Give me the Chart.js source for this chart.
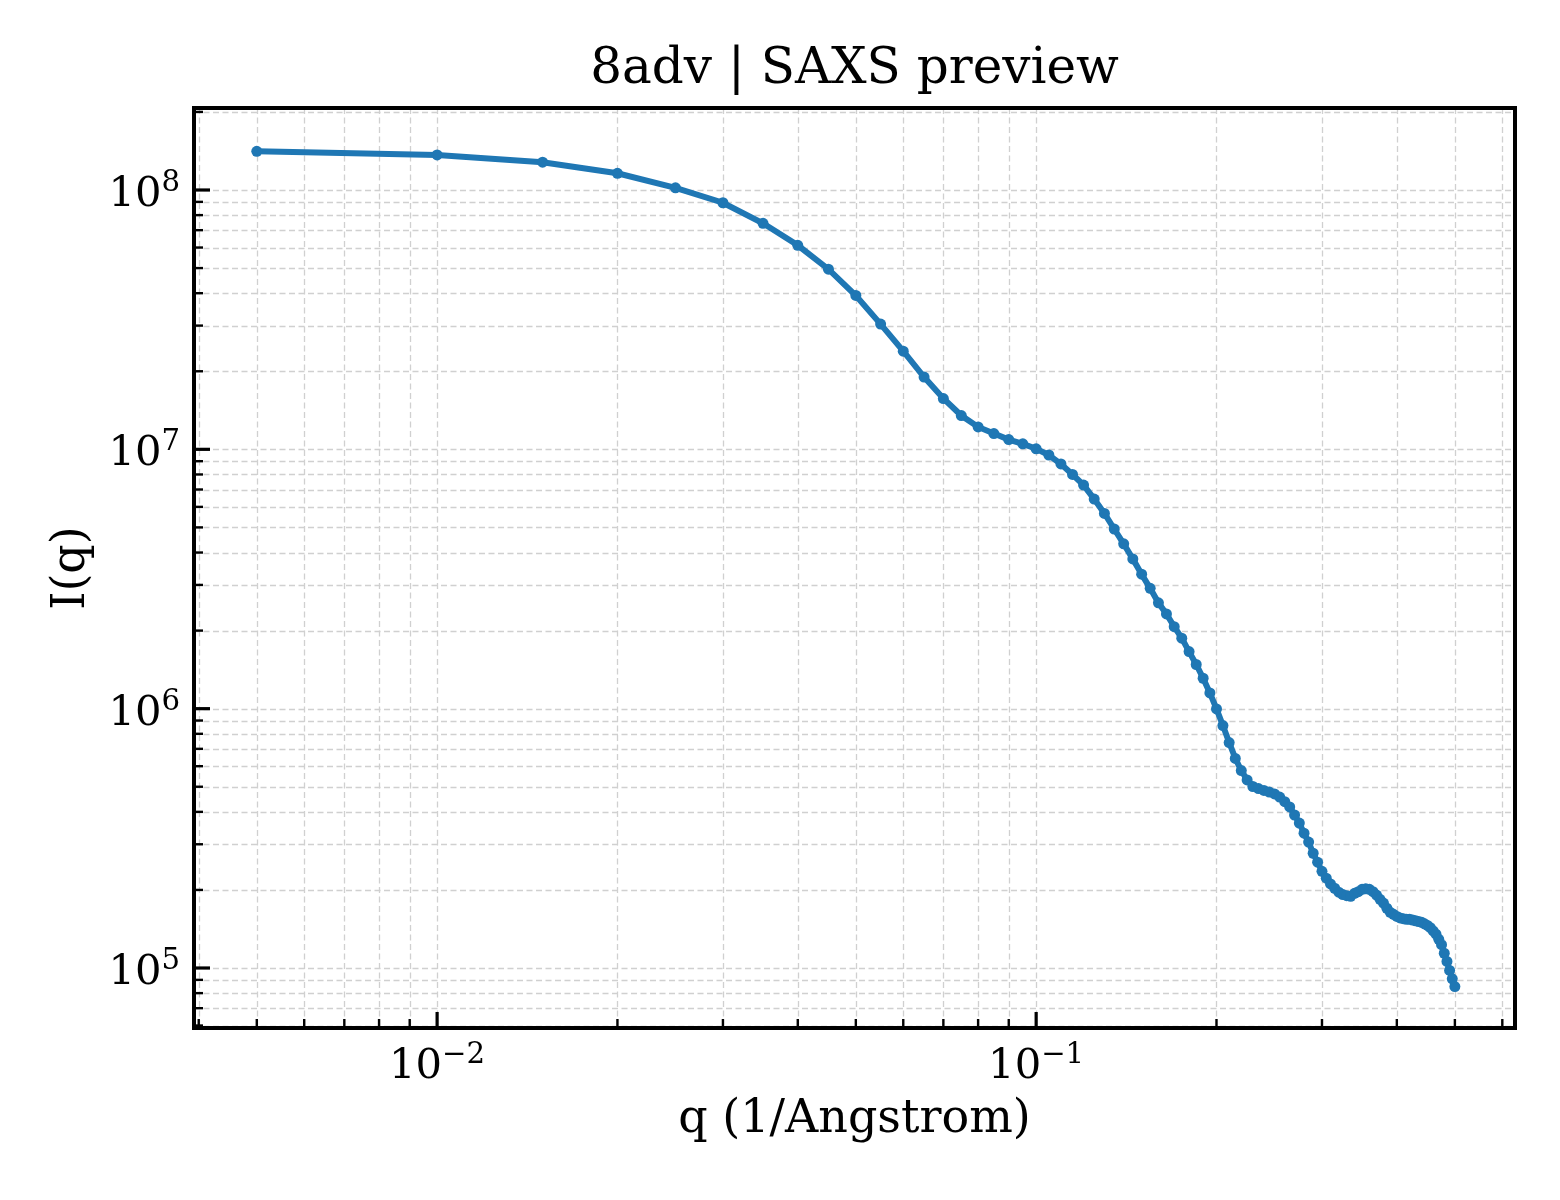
<!DOCTYPE html>
<html>
<head>
<meta charset="utf-8">
<script src="https://cdn.jsdelivr.net/npm/chart.js@4.4.1/dist/chart.umd.min.js"></script>
<style>
  html, body { margin: 0; padding: 0; background: #fff; }
  canvas { display: block; }
</style>
</head>
<body>
<canvas id="saxsChart" width="1560" height="1200"></canvas>
<script>
// q values (1/Angstrom)
const qValues = [
  0.005, 0.010, 0.015, 0.020, 0.025, 0.030, 0.035, 0.040, 0.045, 0.050,
  0.055, 0.060, 0.065, 0.070, 0.075, 0.080, 0.085, 0.090, 0.095, 0.100,
  0.105, 0.110, 0.115, 0.120, 0.125, 0.130, 0.135, 0.140, 0.145, 0.150,
  0.155, 0.160, 0.165, 0.170, 0.175, 0.180, 0.185, 0.190, 0.195, 0.200,
  0.205, 0.210, 0.215, 0.220, 0.225, 0.230, 0.235, 0.240, 0.245, 0.250,
  0.255, 0.260, 0.265, 0.270, 0.275, 0.280, 0.285, 0.290, 0.295, 0.300,
  0.305, 0.310, 0.315, 0.320, 0.325, 0.330, 0.335, 0.340, 0.345, 0.350,
  0.355, 0.360, 0.365, 0.370, 0.375, 0.380, 0.385, 0.390, 0.395, 0.400,
  0.405, 0.410, 0.415, 0.420, 0.425, 0.430, 0.435, 0.440, 0.445, 0.450,
  0.455, 0.460, 0.465, 0.470, 0.475, 0.480, 0.485, 0.490, 0.495, 0.500
];

// I(q)
const intensity = [
  1.41e8, 1.365e8, 1.28e8, 1.16e8, 1.02e8, 8.93e7, 7.44e7, 6.12e7, 4.95e7, 3.92e7,
  3.04e7, 2.39e7, 1.90e7, 1.57e7, 1.35e7, 1.22e7, 1.15e7, 1.09e7, 1.05e7, 1.005e7,
  9.51e6, 8.78e6, 8.00e6, 7.28e6, 6.43e6, 5.66e6, 4.93e6, 4.32e6, 3.78e6, 3.30e6,
  2.91e6, 2.56e6, 2.32e6, 2.07e6, 1.87e6, 1.66e6, 1.48e6, 1.31e6, 1.15e6, 9.98e5,
  8.61e5, 7.40e5, 6.43e5, 5.77e5, 5.31e5, 5.01e5, 4.92e5, 4.84e5, 4.77e5, 4.69e5,
  4.56e5, 4.38e5, 4.18e5, 3.89e5, 3.62e5, 3.31e5, 3.06e5, 2.77e5, 2.56e5, 2.36e5,
  2.22e5, 2.11e5, 2.03e5, 1.96e5, 1.92e5, 1.90e5, 1.89e5, 1.94e5, 1.97e5, 2.01e5,
  2.02e5, 2.01e5, 1.97e5, 1.91e5, 1.84e5, 1.78e5, 1.70e5, 1.64e5, 1.61e5, 1.58e5,
  1.56e5, 1.55e5, 1.54e5, 1.54e5, 1.53e5, 1.52e5, 1.51e5, 1.50e5, 1.48e5, 1.46e5,
  1.43e5, 1.39e5, 1.35e5, 1.29e5, 1.23e5, 1.14e5, 1.06e5, 9.79e4, 9.08e4, 8.48e4
];

// tick labels: base "10" plus exponent
const xTickValues = [0.01, 0.1];
const xTickExps = ['\u22122', '\u22121'];
const yTickValues = [1e5, 1e6, 1e7, 1e8];
const yTickExps = ['5', '6', '7', '8'];

const SERIF = '"DejaVu Serif", "Liberation Serif", serif';
const TICK_SIZE = 41.7;
const EXP_SIZE = 29.2;

// minor tick values (1..9 x decade) inside the scale range
function minorTicks(scale) {
  const out = [];
  let d = Math.pow(10, Math.floor(Math.log10(scale.min)));
  while (d < scale.max) {
    for (let m = 1; m <= 9; m++) {
      const v = m * d;
      if (v >= scale.min && v <= scale.max) out.push({ v: v, major: m === 1 });
    }
    d *= 10;
  }
  return out;
}

// draws "10" with a raised exponent; align 'center' or 'right'
function drawPow(ctx, x, baseY, exp, align) {
  ctx.font = TICK_SIZE + 'px ' + SERIF;
  const wb = ctx.measureText('10').width;
  ctx.font = EXP_SIZE + 'px ' + SERIF;
  const we = ctx.measureText(exp).width;
  const total = wb + we;
  const x0 = align === 'right' ? x - total : x - total / 2;
  ctx.textAlign = 'left';
  ctx.textBaseline = 'alphabetic';
  ctx.font = TICK_SIZE + 'px ' + SERIF;
  ctx.fillText('10', x0, baseY);
  ctx.font = EXP_SIZE + 'px ' + SERIF;
  ctx.fillText(exp, x0 + wb, baseY - 15);
}

const framePlugin = {
  id: 'mplFrame',
  afterLayout(chart) {
    // centre the title over the axes, like matplotlib
    const tb = chart.titleBlock;
    if (tb) { tb.left = chart.chartArea.left; tb.right = chart.chartArea.right; }
  },
  beforeDatasetsDraw(chart) {
    const { ctx, chartArea: a, scales } = chart;
    ctx.save();
    ctx.strokeStyle = '#d0d0d0';
    ctx.lineWidth = 1.3;
    ctx.setLineDash([6, 3.5]);
    minorTicks(scales.x).forEach(t => {
      const px = Math.round(scales.x.getPixelForValue(t.v)) + 0.5;
      ctx.beginPath(); ctx.moveTo(px, a.top); ctx.lineTo(px, a.bottom); ctx.stroke();
    });
    minorTicks(scales.y).forEach(t => {
      const py = Math.round(scales.y.getPixelForValue(t.v)) + 0.5;
      ctx.beginPath(); ctx.moveTo(a.left, py); ctx.lineTo(a.right, py); ctx.stroke();
    });
    ctx.restore();
  },
  afterDatasetsDraw(chart) {
    const { ctx, chartArea: a, scales } = chart;
    ctx.save();
    ctx.strokeStyle = '#000';
    ctx.setLineDash([]);
    minorTicks(scales.x).forEach(t => {
      const px = scales.x.getPixelForValue(t.v);
      ctx.lineWidth = t.major ? 3.2 : 2.4;
      ctx.beginPath(); ctx.moveTo(px, a.bottom); ctx.lineTo(px, a.bottom - (t.major ? 16 : 9)); ctx.stroke();
    });
    minorTicks(scales.y).forEach(t => {
      const py = scales.y.getPixelForValue(t.v);
      ctx.lineWidth = t.major ? 3.2 : 2.4;
      ctx.beginPath(); ctx.moveTo(a.left, py); ctx.lineTo(a.left + (t.major ? 16 : 9), py); ctx.stroke();
    });
    ctx.lineWidth = 4;
    ctx.strokeRect(a.left, a.top, a.right - a.left, a.bottom - a.top);

    // tick labels
    ctx.fillStyle = '#000';
    xTickValues.forEach((v, i) => {
      drawPow(ctx, scales.x.getPixelForValue(v), a.bottom + 50, xTickExps[i], 'center');
    });
    yTickValues.forEach((v, i) => {
      drawPow(ctx, a.left - 14, scales.y.getPixelForValue(v) + 16, yTickExps[i], 'right');
    });
    ctx.restore();
  }
};

const ctx = document.getElementById('saxsChart').getContext('2d');
new Chart(ctx, {
  type: 'line',
  data: {
    datasets: [{
      label: '8adv',
      data: qValues.map((q, i) => ({ x: q, y: intensity[i] })),
      borderColor: '#1f77b4',
      backgroundColor: '#1f77b4',
      borderWidth: 6,
      pointRadius: 5.5,
      pointBorderWidth: 0,
      pointBackgroundColor: '#1f77b4',
      tension: 0,
      fill: false
    }]
  },
  options: {
    responsive: false,
    devicePixelRatio: 1,
    animation: false,
    layout: { padding: { left: 0, right: 45, top: 0, bottom: 0 } },
    plugins: {
      legend: { display: false },
      tooltip: { enabled: false },
      title: {
        display: true,
        text: '8adv | SAXS preview',
        color: '#000',
        font: { family: SERIF, size: 50, weight: 'normal', lineHeight: 1.2 },
        padding: { top: 40, bottom: 8 }
      }
    },
    scales: {
      x: {
        type: 'logarithmic',
        min: 0.003928,
        max: 0.630,
        grid: { display: false },
        border: { display: false },
        afterFit: (s) => { s.height = 172; },
        afterBuildTicks: (s) => { s.ticks = xTickValues.map(v => ({ value: v })); },
        ticks: { display: false },
        title: {
          display: true,
          text: 'q (1/Angstrom)',
          color: '#000',
          font: { family: SERIF, size: 46, lineHeight: 1.2 },
          padding: { top: 0, bottom: 52 }
        }
      },
      y: {
        type: 'logarithmic',
        min: 5.87e4,
        max: 2.071e8,
        grid: { display: false },
        border: { display: false },
        afterFit: (s) => { s.width = 194; },
        afterBuildTicks: (s) => { s.ticks = yTickValues.map(v => ({ value: v })); },
        ticks: { display: false },
        title: {
          display: true,
          text: 'I(q)',
          color: '#000',
          font: { family: SERIF, size: 46, lineHeight: 1.2 },
          padding: { top: 44, bottom: 0 }
        }
      }
    }
  },
  plugins: [framePlugin]
});
</script>
</body>
</html>
